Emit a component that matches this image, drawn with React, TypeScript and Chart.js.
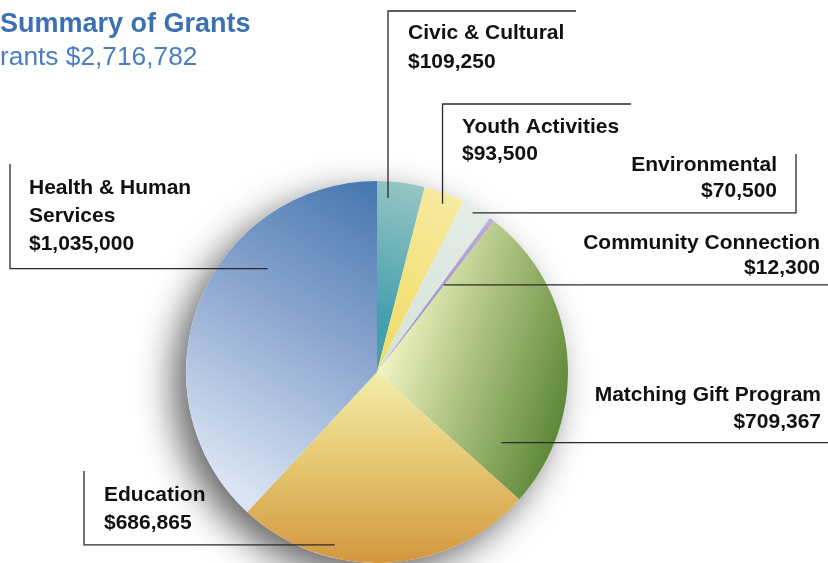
import { useEffect, useRef } from 'react';
import { Chart, registerables } from 'chart.js';

Chart.register(...registerables);

// ---------- data ----------
const titleText = 'Summary of Grants';
const totalPrefix = 'Total Grants';
const categories = [
  'Civic & Cultural',
  'Youth Activities',
  'Environmental',
  'Community Connection',
  'Matching Gift Program',
  'Education',
  'Health & Human Services',
];
const grants = [109250, 93500, 70500, 12300, 709367, 686865, 1035000];
const labelLines = [
  ['Civic & Cultural'],
  ['Youth Activities'],
  ['Environmental'],
  ['Community Connection'],
  ['Matching Gift Program'],
  ['Education'],
  ['Health & Human', 'Services'],
];

// ---------- styles / layout ----------
const FONT = '"Liberation Sans", Arial, Helvetica, sans-serif';
const LABEL_FONT = `bold 21px ${FONT}`;
const TITLE_COLOR = '#3b70b6';
const SUB_COLOR = '#4a7dc2';
const LINE_COLOR = '#2a2a2a';

// gradient stops per slice: [x0,y0,x1,y1] in units of radius relative to centre, and colour stops
const gradients: { p: number[]; stops: [number, string][] }[] = [
  { p: [0, -0.3, 0.3, -1.0], stops: [[0, '#45a0ae'], [1, '#9ec8c6']] },
  { p: [0, -0.2, 0.5, -1.0], stops: [[0, '#f1dd6c'], [1, '#f8eca8']] },
  { p: [0, -0.2, 0.6, -0.9], stops: [[0, '#d7e3da'], [1, '#e5eee7']] },
  { p: [0, 0, 0.6, -0.8], stops: [[0, '#9484bd'], [1, '#bcb0d8']] },
  { p: [0.0, 0.05, 0.95, 0.35], stops: [[0, '#f0f3c2'], [0.4, '#b2c685'], [1, '#5c8736']] },
  { p: [0, 0.0, 0, 1.0], stops: [[0, '#f4eeaa'], [0.5, '#e4c56f'], [1, '#d3973f']] },
  { p: [-0.85, 0.55, 0.05, -1.0], stops: [[0, '#dae4f4'], [0.5, '#8ea8d0'], [1, '#4274ae']] },
];

type Leader = {
  t: number; // fraction along the slice angle
  r: number; // fraction of radius
  path: 'up' | 'rightUp' | 'right' | 'leftUp';
  ex: number;
  ey: number;
  tx: number;
  align: CanvasTextAlign;
  baselines: number[];
};

const leaders: Leader[] = [
  { t: 0.25, r: 0.913, path: 'up', ex: 576, ey: 11, tx: 408, align: 'left', baselines: [39, 68] },
  { t: 0.55, r: 0.945, path: 'up', ex: 631, ey: 104, tx: 462, align: 'left', baselines: [133, 160] },
  { t: 0.44, r: 0.972, path: 'rightUp', ex: 796, ey: 154, tx: 777, align: 'right', baselines: [171, 197] },
  { t: 0.8, r: 0.575, path: 'right', ex: 828, ey: 0, tx: 820, align: 'right', baselines: [249, 274] },
  { t: 0.87, r: 0.749, path: 'right', ex: 828, ey: 0, tx: 821, align: 'right', baselines: [401, 428] },
  { t: 0.68, r: 0.932, path: 'leftUp', ex: 84, ey: 471, tx: 104, align: 'left', baselines: [501, 529] },
  { t: 0.66, r: 0.788, path: 'leftUp', ex: 10, ey: 164, tx: 29, align: 'left', baselines: [194, 222, 250] },
];

const fmt = (v: number) => '$' + v.toLocaleString('en-US');

const shadowPlugin = {
  id: 'pieShadow',
  beforeDatasetsDraw(chart: any) {
    const arc = chart.getDatasetMeta(0).data[0];
    if (!arc) return;
    const ctx = chart.ctx;
    ctx.save();
    ctx.shadowColor = 'rgba(0,0,0,0.6)';
    ctx.shadowBlur = 36;
    ctx.shadowOffsetX = -13;
    ctx.shadowOffsetY = 13;
    ctx.fillStyle = '#ffffff';
    ctx.beginPath();
    ctx.arc(arc.x, arc.y, arc.outerRadius, 0, Math.PI * 2);
    ctx.fill();
    ctx.restore();
  },
};

const labelPlugin = {
  id: 'grantLabels',
  afterDraw(chart: any) {
    const ctx = chart.ctx;
    const meta = chart.getDatasetMeta(0);
    ctx.save();
    // title
    ctx.fillStyle = TITLE_COLOR;
    ctx.textAlign = 'left';
    ctx.textBaseline = 'alphabetic';
    ctx.font = `bold 27px ${FONT}`;
    ctx.fillText(titleText, 0, 32);
    const total = grants.reduce((a, b) => a + b, 0);
    ctx.font = `26.3px ${FONT}`;
    ctx.fillStyle = SUB_COLOR;
    const full = `${totalPrefix} ${fmt(total)}`;
    const off = ctx.measureText(totalPrefix.slice(0, totalPrefix.indexOf('G') + 1)).width;
    ctx.fillText(full, -off, 65);

    // leaders
    ctx.strokeStyle = LINE_COLOR;
    ctx.lineWidth = 1.3;
    leaders.forEach((L, i) => {
      const a = meta.data[i];
      if (!a) return;
      const ang = a.startAngle + L.t * (a.endAngle - a.startAngle);
      const px = a.x + Math.cos(ang) * L.r * a.outerRadius;
      const py = a.y + Math.sin(ang) * L.r * a.outerRadius;
      ctx.beginPath();
      ctx.moveTo(px, py);
      if (L.path === 'up') {
        ctx.lineTo(px, L.ey);
        ctx.lineTo(L.ex, L.ey);
      } else if (L.path === 'rightUp') {
        ctx.lineTo(L.ex, py);
        ctx.lineTo(L.ex, L.ey);
      } else if (L.path === 'right') {
        ctx.lineTo(L.ex, py);
      } else {
        ctx.lineTo(L.ex, py);
        ctx.lineTo(L.ex, L.ey);
      }
      ctx.stroke();

      ctx.fillStyle = '#111111';
      ctx.font = LABEL_FONT;
      ctx.textAlign = L.align;
      const lines = [...labelLines[i], fmt(grants[i])];
      lines.forEach((s, k) => ctx.fillText(s, L.tx, L.baselines[k]));
    });
    ctx.restore();
  },
};

export default function App() {
  const ref = useRef<HTMLCanvasElement>(null);
  useEffect(() => {
    if (!ref.current) return;
    const chart = new Chart(ref.current, {
      type: 'pie',
      data: {
        labels: categories,
        datasets: [
          {
            data: grants,
            borderWidth: 0,
            backgroundColor: (c: any) => {
              const chart = c.chart;
              const area = chart.chartArea;
              const g = gradients[c.dataIndex];
              if (!area || !g) return '#cccccc';
              const cx = (area.left + area.right) / 2;
              const cy = (area.top + area.bottom) / 2;
              const R = Math.min(area.right - area.left, area.bottom - area.top) / 2;
              const grad = chart.ctx.createLinearGradient(
                cx + g.p[0] * R, cy + g.p[1] * R, cx + g.p[2] * R, cy + g.p[3] * R
              );
              g.stops.forEach(([o, col]) => grad.addColorStop(o, col));
              return grad;
            },
          },
        ],
      },
      options: {
        responsive: false,
        animation: false,
        events: [],
        layout: { padding: { left: 186, right: 260, top: 181, bottom: 0 } },
        plugins: {
          legend: { display: false },
          tooltip: { enabled: false },
          title: { display: false },
        },
      },
      plugins: [shadowPlugin, labelPlugin],
    });
    return () => chart.destroy();
  }, []);
  return (
    <div style={{ position: 'absolute', left: 0, top: 0, width: 828, height: 563, background: '#fff' }}>
      <canvas ref={ref} width={828} height={563} style={{ display: 'block' }} />
    </div>
  );
}
